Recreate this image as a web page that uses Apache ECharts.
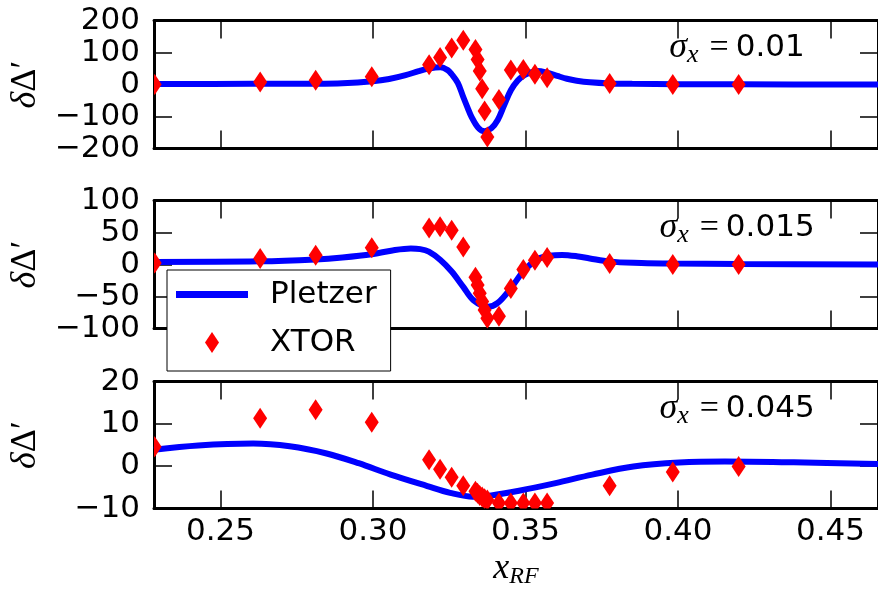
<!DOCTYPE html>
<html><head><meta charset="utf-8">
<script src="https://cdn.jsdelivr.net/npm/echarts@6/dist/echarts.min.js"></script>
<style>html,body{margin:0;padding:0;background:#fff}#c{width:878px;height:590px}</style>
</head><body><div id="c"></div><script>
// ---------------- data ----------------
const xTicks = [0.25, 0.30, 0.35, 0.40, 0.45];
const yTicks1 = [-200, -100, 0, 100, 200];
const yTicks2 = [-100, -50, 0, 50, 100];
const yTicks3 = [-10, 0, 10, 20];
const sigmaLabels = ['0.01', '0.015', '0.045'];

const xtorX = [0.2284, 0.2630, 0.2812, 0.2996, 0.3184, 0.3220, 0.3258, 0.3296, 0.3336, 0.3343, 0.3350,
               0.3358, 0.3366, 0.3375, 0.3413, 0.3452, 0.3493, 0.3531, 0.3571, 0.3776, 0.3983, 0.4199];
const xtorY1 = [0, 8, 13, 24, 62, 84, 114, 138, 109, 78, 42, -13, -83, -164, -47, 45, 47, 32, 21, 3, 0, 0];
const xtorY2 = [2.5, 9.4, 14.5, 26, 57, 59, 53.6, 27.5, -20, -32, -45, -58, -71, -84, -81, -37.5, -8, 6.7, 11, 1.5, 0, 0];
const xtorY3 = [4.6, 11.3, 13.3, 10.4, 1.5, -0.7, -2.6, -4.6, -5.9, -6.4, -6.9, -7.3, -7.7, -8.0, -8.7, -8.7, -8.7, -8.7, -8.7, -4.6, -1.4, -0.1];

const pletzerX1 = [0.2282, 0.26, 0.28, 0.29, 0.2999, 0.3053, 0.3107, 0.315, 0.3183, 0.3221, 0.3245, 0.3258, 0.3278,
                   0.3296, 0.3310, 0.3323, 0.3345, 0.3366, 0.3388, 0.3409, 0.3430, 0.3452, 0.3474, 0.3496, 0.3518,
                   0.3539, 0.3570, 0.3604, 0.3636, 0.3668, 0.3711, 0.3776, 0.385, 0.40, 0.42, 0.4656];
const pletzerY1 = [1.5, 2, 2.5, 4, 10, 17, 29, 42, 50, 54, 45, 32, 5,
                   -39, -72, -101, -135, -146, -137, -111, -65, -18, 12, 29, 38,
                   42, 37, 27, 18, 12, 7, 3.5, 2, 1, 0.5, 0];
const pletzerX2 = [0.2282, 0.2630, 0.2812, 0.2900, 0.2996, 0.3064, 0.3124, 0.3155, 0.3183, 0.3221, 0.3258, 0.3296,
                   0.3330, 0.3377, 0.3409, 0.3452, 0.3496, 0.3539, 0.3580, 0.3620, 0.3668, 0.3711, 0.3776, 0.3880,
                   0.3983, 0.4199, 0.4656];
const pletzerY2 = [4, 5, 8, 11, 16, 22, 25, 24, 20, 7, -11, -35,
                   -56, -66, -60, -37, -9, 8, 14, 15, 13, 9.4, 4.5, 2.5,
                   1.6, 0.6, 0];
const pletzerX3 = [0.2282, 0.2427, 0.2607, 0.2727, 0.2848, 0.2953, 0.3058, 0.3178, 0.3253, 0.3328, 0.3388, 0.3479,
                   0.3599, 0.3719, 0.3854, 0.4004, 0.4154, 0.4380, 0.4656];
const pletzerY3 = [3.9, 4.9, 5.35, 4.7, 3.0, 0.7, -2.0, -4.7, -6.3, -7.2, -6.9, -5.8,
                   -4.0, -2.0, -0.1, 0.85, 1.1, 0.9, 0.5];

// ---------------- chart ----------------
const zip = (xs, ys) => xs.map((x, i) => [x, ys[i]]);
const panels = [
  {top: 20.5, height: 128, ticks: yTicks1, px: pletzerX1, py: pletzerY1, xy: xtorY1, labY: 48},
  {top: 200.5, height: 128, ticks: yTicks2, px: pletzerX2, py: pletzerY2, xy: xtorY2, labY: 228},
  {top: 381.5, height: 127, ticks: yTicks3, px: pletzerX3, py: pletzerY3, xy: xtorY3, labY: 409}
];
const X_MIN = 0.2282, X_MAX = 0.4656;
const spine = {show: true, onZero: false, lineStyle: {color: '#000', width: 3}};
const tick = {show: true, inside: true, length: 18, lineStyle: {color: '#000', width: 1.5}};
const minusFmt = v => (v < 0 ? '\u2212' + Math.abs(v) : String(v));
const mathRich = {
  d: {fontFamily: 'Liberation Serif', fontStyle: 'italic', fontSize: 36, color: '#000'},
  D: {fontFamily: 'Liberation Serif', fontSize: 36, color: '#000'},
  p: {fontFamily: 'Liberation Serif', fontSize: 36, color: '#000'}
};

const grid = [], xAxis = [], yAxis = [], series = [], graphic = [];
panels.forEach((p, i) => {
  const last = i === panels.length - 1;
  grid.push({left: 152, top: p.top, width: 733, height: p.height});
  xAxis.push({
    type: 'value', gridIndex: i, position: 'bottom', min: X_MIN, max: X_MAX,
    axisLine: spine,
    axisTick: Object.assign({customValues: xTicks}, tick),
    axisLabel: {show: last, customValues: xTicks, formatter: v => v.toFixed(2), color: '#000',
                fontFamily: 'DejaVu Sans', fontSize: 31, margin: 8},
    splitLine: {show: false},
    name: last ? '{i|x}{sub|RF}' : '', nameLocation: 'middle', nameGap: 40,
    nameTextStyle: {rich: {
      i: {fontFamily: 'Liberation Serif', fontStyle: 'italic', fontSize: 36, lineHeight: 40, color: '#000'},
      sub: {fontFamily: 'Liberation Serif', fontStyle: 'italic', fontSize: 24, lineHeight: 24, verticalAlign: 'bottom', color: '#000'}
    }}
  });
  xAxis.push({
    type: 'value', gridIndex: i, position: 'top', min: X_MIN, max: X_MAX,
    axisLine: spine,
    axisTick: Object.assign({customValues: xTicks}, tick),
    axisLabel: {show: false}, splitLine: {show: false}
  });
  const mn = p.ticks[0], mx = p.ticks[p.ticks.length - 1], iv = p.ticks[1] - p.ticks[0];
  yAxis.push({
    type: 'value', gridIndex: i, position: 'left', min: mn, max: mx, interval: iv,
    axisLine: spine, axisTick: tick,
    axisLabel: {formatter: minusFmt, color: '#000', fontFamily: 'DejaVu Sans', fontSize: 31, margin: 14},
    splitLine: {show: false},
    name: '{d|δ}{D|Δ}{p|′}', nameLocation: 'middle', nameRotate: 90, nameGap: 110,
    nameTextStyle: {rich: mathRich}
  });
  yAxis.push({
    type: 'value', gridIndex: i, position: 'right', min: mn, max: mx, interval: iv,
    axisLine: spine, axisTick: tick, axisLabel: {show: false}, splitLine: {show: false}
  });
  series.push({
    name: 'Pletzer', type: 'line', xAxisIndex: 2 * i, yAxisIndex: 2 * i,
    data: zip(p.px, p.py), smooth: 0.35, symbol: 'none', showSymbol: false, clip: true, z: 2,
    lineStyle: {color: '#0000ff', width: 6}, itemStyle: {color: '#0000ff'}
  });
  series.push({
    name: 'XTOR', type: 'custom', xAxisIndex: 2 * i, yAxisIndex: 2 * i,
    data: zip(xtorX, p.xy), clip: true, z: 3, encode: {x: 0, y: 1},
    itemStyle: {color: '#ff0000'},
    renderItem: (params, api) => {
      const c = api.coord([api.value(0), api.value(1)]);
      const hw = 7, hh = 10.5;
      return {type: 'polygon',
        shape: {points: [[c[0], c[1] - hh], [c[0] + hw, c[1]], [c[0], c[1] + hh], [c[0] - hw, c[1]]]},
        style: {fill: '#ff0000', stroke: null}};
    }
  });
  graphic.push({
    type: 'text', x: 737, y: p.labY, z: 10,
    style: {
      text: '{s|σ}{sub|x}{eq|=}{n|' + sigmaLabels[i] + '}',
      align: 'center', verticalAlign: 'middle',
      rich: {
        s: {fontFamily: 'Liberation Serif', fontStyle: 'italic', fontSize: 36, lineHeight: 40, fill: '#000'},
        sub: {fontFamily: 'Liberation Serif', fontStyle: 'italic', fontSize: 26, lineHeight: 26, verticalAlign: 'bottom', fill: '#000'},
        eq: {fontFamily: 'Liberation Serif', fontSize: 34, lineHeight: 40, padding: [0, 7, 0, 11], fill: '#000'},
        n: {fontFamily: 'DejaVu Sans', fontSize: 31, lineHeight: 40, fill: '#000'}
      }
    }
  });
});

const chart = echarts.init(document.getElementById('c'), null, {renderer: 'canvas'});
chart.setOption({
  animation: false,
  backgroundColor: '#fff',
  grid, xAxis, yAxis, series, graphic,
  legend: {
    left: 167, top: 270, orient: 'vertical', selectedMode: false,
    backgroundColor: '#fff', borderColor: '#000', borderWidth: 1, borderRadius: 0,
    padding: [9, 14, 13, 9], itemWidth: 72, itemHeight: 21, itemGap: 17,
    textStyle: {fontFamily: 'DejaVu Sans', fontSize: 31, color: '#000', padding: [0, 0, 0, 17]},
    data: [
      {name: 'Pletzer', icon: 'path://M0 0H72V7H0Z'},
      {name: 'XTOR', icon: 'path://M7 0L14 10.5L7 21L0 10.5Z'}
    ]
  }
});
</script></body></html>
